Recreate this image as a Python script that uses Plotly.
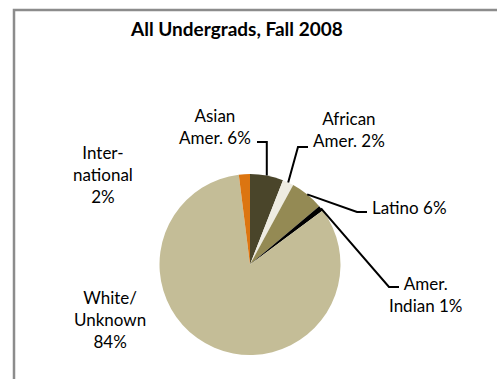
import math
import plotly.graph_objects as go

# Fall 2008 undergraduate enrollment by group (percent)
groups = ["Asian Amer.", "African Amer.", "Latino", "Amer. Indian", "White/ Unknown", "International"]
shares = [6, 2, 6, 1, 84, 2]
label_text = ["Asian<br>Amer. 6%", "African<br>Amer. 2%", "Latino 6%",
              "Amer.<br>Indian 1%", "White/<br>Unknown<br>84%", "Inter-<br>national<br>2%"]
colors = ["#4A452A", "#EEECE1", "#948A54", "#000000", "#C4BD97", "#DC7511"]

W, H = 497, 379
CX, CY, R = 250.0, 264.5, 90.5
FONT = "Lato"


def px(x):
    return x / W


def py(y):
    return 1 - y / H


fig = go.Figure(go.Pie(
    labels=groups,
    values=shares,
    sort=False,
    direction="clockwise",
    rotation=0,
    marker=dict(colors=colors, line=dict(width=0)),
    textinfo="none",
    hoverinfo="label+percent",
    showlegend=False,
    domain=dict(x=[px(CX - R), px(CX + R)], y=[py(CY + R), py(CY - R)]),
))

# mid-angle of each slice (degrees clockwise from 12 o'clock) and its rim point
total = sum(shares)
rim = []
acc = 0.0
for v in shares:
    mid = (acc + v / 2) / total * 360.0
    acc += v
    a = math.radians(mid)
    rim.append((CX + R * math.sin(a), CY - R * math.cos(a)))

# leader-line routes: rim point -> elbow -> label end
leaders = {
    0: [("elbow_v", 142.0), (257.0, 142.0)],
    1: [(298.0, 147.0), (308.0, 147.0)],
    2: [(357.0, 212.0), (367.0, 212.0)],
    3: [(389.0, 287.0), (399.0, 287.0)],
}

shapes = []
for i, route in leaders.items():
    x0, y0 = rim[i]
    pts = [(x0, y0)]
    for p in route:
        if p[0] == "elbow_v":
            pts.append((x0, p[1]))
        else:
            pts.append(p)
    path = "M " + " L ".join(f"{px(x):.5f},{py(y):.5f}" for x, y in pts)
    shapes.append(dict(type="path", xref="paper", yref="paper", path=path,
                       line=dict(color="#000000", width=2)))

# chart-area frame (left and top edges visible)
shapes.append(dict(type="path", xref="paper", yref="paper",
                   path=f"M {px(14):.5f},{py(H + 5):.5f} L {px(14):.5f},{py(10):.5f} L {px(W + 5):.5f},{py(10):.5f}",
                   line=dict(color="#8C8C8C", width=2.5)))

# label centres
label_pos = [(215, 126), (349, 129), (409, 207), (426, 294), (110, 319), (103, 175)]

annotations = [dict(text="<b>All Undergrads, Fall 2008</b>", x=px(236), y=py(28),
                    xref="paper", yref="paper", showarrow=False,
                    xanchor="center", yanchor="middle",
                    font=dict(family=FONT, size=19, color="#000000"))]
for t, (x, y) in zip(label_text, label_pos):
    annotations.append(dict(text=t, x=px(x), y=py(y), xref="paper", yref="paper",
                            showarrow=False, xanchor="center", yanchor="middle",
                            align="center",
                            font=dict(family=FONT, size=17, color="#000000")))

fig.update_layout(
    width=W, height=H,
    margin=dict(l=0, r=0, t=0, b=0),
    paper_bgcolor="#FFFFFF",
    plot_bgcolor="#FFFFFF",
    shapes=shapes,
    annotations=annotations,
)

fig.write_html("out.html")
